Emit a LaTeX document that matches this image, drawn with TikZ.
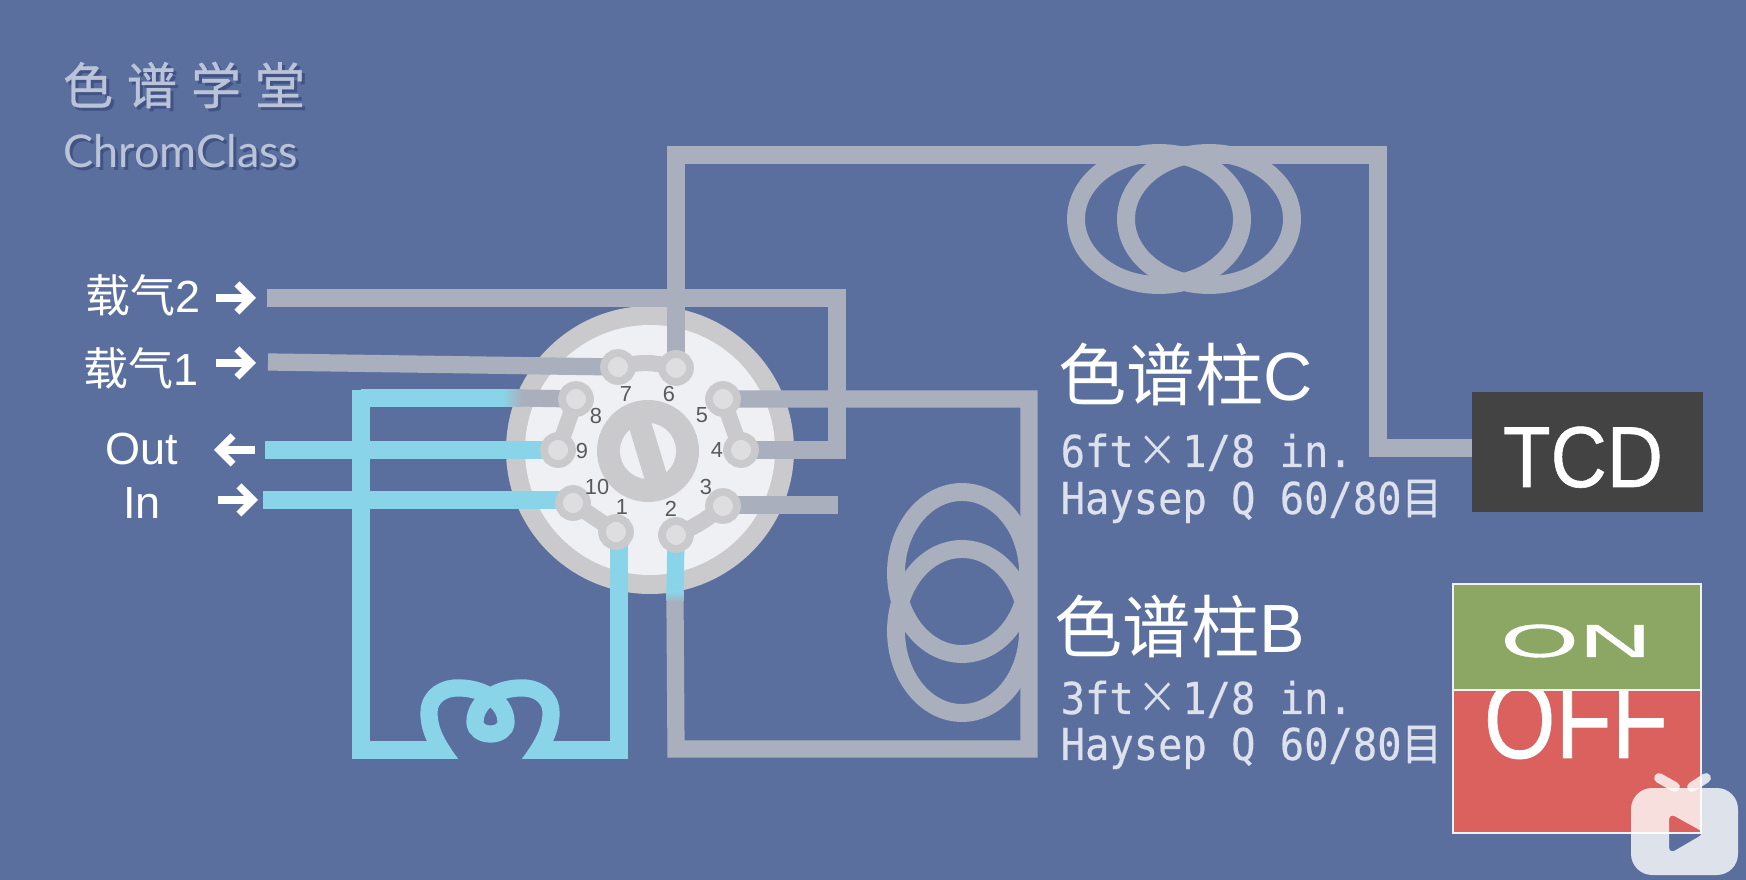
\documentclass[tikz,border=0pt]{standalone}
\usepackage{graphicx}
\usepackage{fontspec}
\setmainfont{Liberation Sans}
\setmonofont[FakeBold=0.4]{DejaVu Sans Mono}
\newfontfamily\cjk{Noto Sans CJK SC}
\newfontfamily\cjkheavy[FakeBold=0.8]{Noto Sans CJK SC}
\newfontfamily\cjkspec[FakeBold=0.4]{Noto Sans CJK SC}
\newfontfamily\signfont[FakeBold=0.7]{Liberation Sans}
\newfontfamily\logofont{Lato}
\usetikzlibrary{arrows.meta}

\definecolor{bgblue}{HTML}{5B6F9F}
\definecolor{pipegray}{HTML}{A9AFBD}
\definecolor{pipeblue}{HTML}{8AD4EA}
\definecolor{valvegray}{HTML}{CACACC}
\definecolor{valvewhite}{HTML}{EFF0F4}
\definecolor{portcore}{HTML}{DEDEE1}
\definecolor{logotext}{HTML}{B9C4D9}
\definecolor{logoshade}{HTML}{415283}
\definecolor{spectext}{HTML}{DDE1EC}
\definecolor{tcdgray}{HTML}{434343}
\definecolor{ongreen}{HTML}{8BA763}
\definecolor{offred}{HTML}{DB615E}

\newcommand{\logocjk}{色\hspace{4pt}谱\hspace{4pt}学\hspace{4pt}堂}
\newcommand{\crosswide}{\makebox[15pt]{\cjk ×}}
\newcommand{\specline}[1]{\scalebox{0.92}[1]{#1}}

\tikzset{
  graypipe/.style={draw=pipegray, line width=4.9pt},
  bluepipe/.style={draw=pipeblue, line width=4.9pt},
  coil/.style={draw=pipegray, line width=5.1pt},
  portlink/.style={draw=valvegray, line width=4.6pt},
  portring/.style={circle, fill=portcore, draw=valvegray, line width=2.2pt, minimum size=0.28cm, inner sep=0pt},
  portnum/.style={text=black!65, font=\fontsize{6.2}{7}\selectfont, inner sep=0pt},
  flowarrow/.style={draw=white, line width=2pt, -{Straight Barb[length=4pt, width=8pt, line width=2pt]}},
  sidelabel/.style={text=white, font=\fontsize{12.8}{15}\selectfont, inner sep=0pt},
  columntitle/.style={text=white, anchor=west, inner sep=0pt, font=\fontsize{19.4}{22}\selectfont},
  columnspec/.style={text=spectext, anchor=base west, inner sep=0pt, font=\ttfamily\fontsize{12.5}{14}\selectfont},
}

\begin{document}
\begin{tikzpicture}[x=0.01cm, y=-0.01cm]
  \useasboundingbox (0,0) rectangle (1746,880);
  \fill[bgblue] (0,0) rectangle (1746,880);

  % Logo
  \node[text=logoshade, font=\cjkheavy\fontsize{14.2}{16}\selectfont, inner sep=0pt] (logoshadeA) at (187,88) {\logocjk};
  \node[text=logotext, font=\cjkheavy\fontsize{14.2}{16}\selectfont, inner sep=0pt] (logoA) at (184,85) {\logocjk};
  \node[text=logoshade, font=\logofont\fontsize{12.8}{15}\selectfont, inner sep=0pt] (logoshadeB) at (184,154) {ChromClass};
  \node[text=logotext, font=\logofont\fontsize{12.8}{15}\selectfont, inner sep=0pt] (logoB) at (181,151) {ChromClass};

  % Valve body
  \fill[valvegray] (650,450) circle (144);
  \fill[valvewhite] (650,450) circle (125);
  \fill[valvegray] (648,451) circle (51);
  \fill[valvewhite] (648,451) circle (28);
  \draw[valvegray, line width=6.5pt] (635,408) -- (661,494);

  % Port positions
  \foreach \n/\x/\y in {1/616/532, 2/676/535, 3/723/506, 4/741/450, 5/723/399,
                        6/676/368, 7/618/367, 8/576/399, 9/558/450, 10/573/503}
    \coordinate (p\n) at (\x,\y);

  % Loose ends of the pipes
  \coordinate (car2) at (267,298);
  \coordinate (car1) at (268,362);
  \coordinate (outend) at (265,450);
  \coordinate (inend) at (263,500);
  \coordinate (stub3) at (838,505);
  \coordinate (car2turn) at (837,298);
  \coordinate (topturn) at (1378,155);
  \coordinate (tcdin) at (1472,448);
  \coordinate (colbturn) at (1029,749);
  \coordinate (loopturn) at (361,750);
  \coordinate (loopl) at (440,750);
  \coordinate (loopr) at (540,750);

  % Sample loop
  \draw[bluepipe] (361,398) -- (503,398);
  \draw[bluepipe] (361,390) -- (loopturn) -- (loopl);
  \draw[bluepipe] (loopr) -- (619,750) -- (619,532);
  \begin{scope}
    \clip (380,670) rectangle (600,759);
    \draw[bluepipe] (452,765) .. controls (437,745) and (429,730) .. (429,713)
      .. controls (429,695) and (445,687) .. (460,688)
      .. controls (480,688) and (506,700) .. (506,722)
      .. controls (506,738) and (475,738) .. (475,722)
      .. controls (475,700) and (500,688) .. (520,688)
      .. controls (535,687) and (551,695) .. (551,713)
      .. controls (551,730) and (543,745) .. (528,765);
  \end{scope}
  \draw[bluepipe] (outend) -- (p9);
  \draw[bluepipe] (inend) -- (inend -| p10);

  % Carrier gas pipes
  \draw[graypipe] (car2) -- (car2turn) -- (car2turn |- p4) -- (p4);
  \draw[graypipe] (car1) -- (p7);
  \draw[graypipe] (522,398) -- (p8);
  \shade[left color=pipeblue, right color=pipegray] (502,389.5) rectangle (522,406.5);
  \draw[graypipe] (stub3 -| p3) -- (stub3);

  % Column C with its coil
  \draw[graypipe] (p6) |- (topturn) -- (topturn |- tcdin) -- (tcdin);
  \draw[coil] (1159,219) ellipse [x radius=83, y radius=66];
  \draw[coil] (1209,219) ellipse [x radius=83, y radius=66];

  % Column B with its coil
  \draw[graypipe] (p5) -| (colbturn) -- (colbturn -| p2) -- (675,602);
  \draw[coil] (962,573) ellipse [x radius=66, y radius=81];
  \draw[coil] (962,631) ellipse [x radius=66, y radius=82];
  \draw[bluepipe] (p2) -- (675,592);
  \shade[top color=pipeblue, bottom color=pipegray] (666.5,592) rectangle (683.5,602);

  % Links and rings of the ports
  \draw[portlink] (p7) to[bend left=15] (p6);
  \draw[portlink] (p5) -- (p4);
  \draw[portlink] (p3) to[bend left=8] (p2);
  \draw[portlink] (p1) -- (p10);
  \draw[portlink] (p9) -- (p8);
  \foreach \n in {1,...,10}
    \node[portring] (ring\n) at (p\n) {};

  % Port numbers
  \foreach \n/\x/\y in {1/622/507, 2/671/509, 3/706/487, 4/717/450, 5/702/415,
                        6/669/394, 7/626/394, 8/596/416, 9/582/451, 10/597/487}
    \node[portnum] (num\n) at (\x,\y) {\n};

  % Left labels and flow arrows
  \node[sidelabel] (lcar2) at (143,295) {{\cjk 载气}2};
  \node[sidelabel] (lcar1) at (141,368) {{\cjk 载气}1};
  \node[sidelabel] (lout) at (142,449) {Out};
  \node[sidelabel] (lin) at (142,503) {In};
  \coordinate (acar2) at (216,298);
  \coordinate (acar1) at (216,363);
  \coordinate (aout) at (255,450);
  \coordinate (ain) at (218,500);
  \draw[flowarrow] (acar2) -- (256,298);
  \draw[flowarrow] (acar1) -- (256,363);
  \draw[flowarrow] (aout) -- (214,450);
  \draw[flowarrow] (ain) -- (258,500);

  % Column labels
  \node[columntitle] (colc) at (1058,374) {{\cjk 色谱柱}C};
  \node[columnspec] (colca) at (1060,467) {\specline{6ft\crosswide 1/8 in.}};
  \node[columnspec] (colcb) at (1060,514) {\specline{Haysep Q 60/80{\cjkspec 目}}};
  \node[columntitle] (colb) at (1054,626) {{\cjk 色谱柱}B};
  \node[columnspec] (colba) at (1060,714) {\specline{3ft\crosswide 1/8 in.}};
  \node[columnspec] (colbb) at (1060,760) {\specline{Haysep Q 60/80{\cjkspec 目}}};

  % TCD
  \node[fill=tcdgray, minimum width=2.31cm, minimum height=1.2cm, inner sep=0pt] (TCD) at (1587.5,452) {};
  \node[text=white, inner sep=0pt, anchor=base, font=\signfont\fontsize{24.6}{28}\selectfont] (tcdtxt) at (1583,487) {\scalebox{0.9}[1]{TCD}};

  % Switch
  \node[fill=offred, draw=white!90!bgblue, line width=0.6pt, minimum width=2.48cm, minimum height=1.43cm, inner sep=0pt] (offbox) at (1577,761.5) {};
  \node[text=white, inner sep=0pt, anchor=base, font=\signfont\fontsize{26.2}{30}\selectfont] (offtxt) at (1576,758) {\scalebox{1}[1.2]{OFF}};
  \node[fill=ongreen, draw=white!90!bgblue, line width=0.6pt, minimum width=2.48cm, minimum height=1.06cm, inner sep=0pt] (onbox) at (1577,637) {};
  \node[text=white, inner sep=0pt, anchor=base, font=\signfont\fontsize{22}{26}\selectfont] (ontxt) at (1576,657) {\scalebox{1.3}[0.6]{ON}};

  % Corner badge
  \fill[white, opacity=0.8, even odd rule] [rounded corners=6pt] (1631,788) rectangle (1738,875)
    [rounded corners=2pt] (1669,813) -- (1705,833) -- (1669,854) -- cycle;
  \draw[white, opacity=0.8, line width=2.8pt, line cap=round] (1659,778) -- (1675,787);
  \draw[white, opacity=0.8, line width=2.8pt, line cap=round] (1706,778) -- (1692,787);
\end{tikzpicture}
\end{document}
